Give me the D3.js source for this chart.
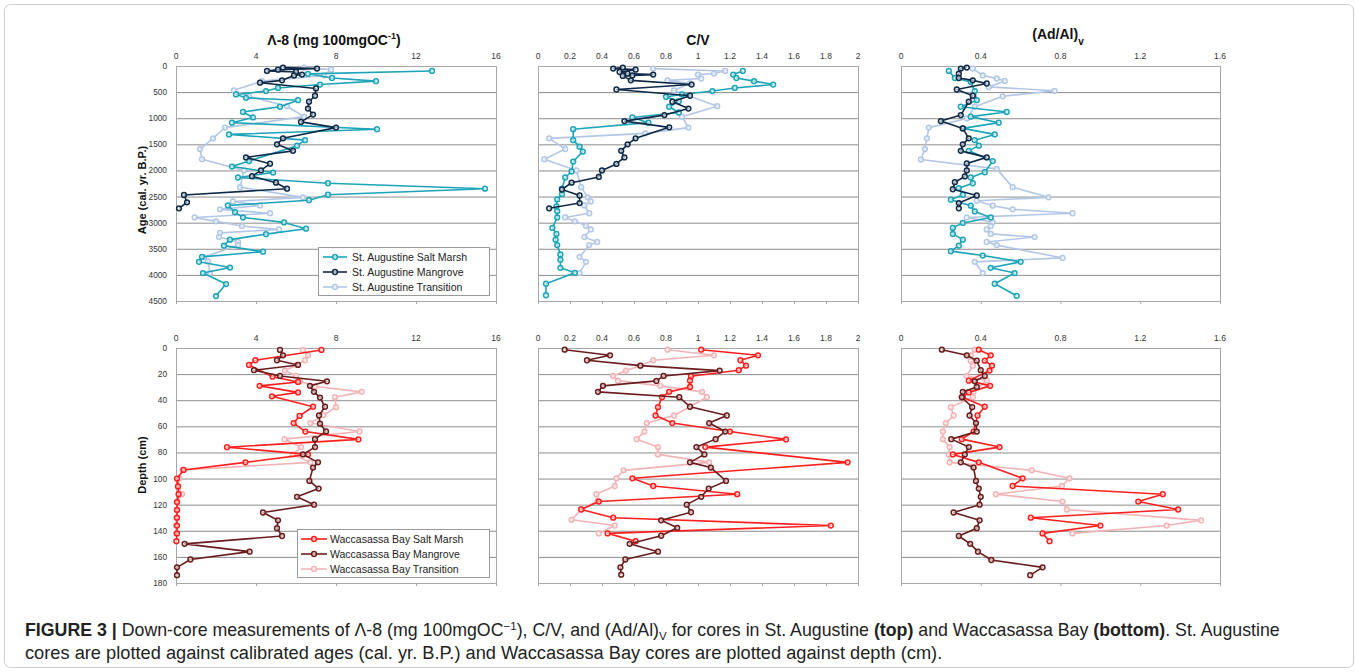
<!DOCTYPE html>
<html>
<head>
<meta charset="utf-8">
<script src="https://cdn.jsdelivr.net/npm/d3@7"></script>
<style>
  body { margin: 0; background: #fff; }
  svg text { font-family: "Liberation Sans", Arial, Helvetica, sans-serif; }
</style>
</head>
<body>
<div id="chart"></div>
<script>
// St. Augustine, [value, age cal. yr B.P.]
const saSaltMarshLambda = [[12.8,95],[6.6,150],[7.8,230],[10.0,290],[7.2,355],[5.1,420],[4.5,480],[3.0,545],[3.5,610],[6.1,655],[5.2,780],[3.35,880],[3.85,985],[2.8,1085],[10.05,1210],[2.65,1310],[6.45,1420],[6.05,1525],[3.65,1820],[2.8,1925],[4.85,2040],[3.1,2135],[7.6,2245],[15.45,2350],[7.6,2465],[6.65,2570],[2.6,2670],[2.95,2800],[3.35,2900],[5.4,2995],[6.5,3115],[4.5,3220],[2.7,3325],[2.4,3440],[4.35,3555],[1.3,3655],[1.15,3750],[2.7,3860],[1.35,3965],[2.5,4175],[2.0,4405]];
const saMangroveLambda = [[5.35,30],[7.05,50],[5.1,70],[4.55,95],[6.0,115],[6.3,165],[5.9,180],[5.3,275],[4.2,320],[7.0,430],[6.95,570],[6.65,685],[6.6,815],[6.85,930],[6.25,1070],[8.0,1180],[5.35,1385],[5.05,1500],[5.85,1625],[3.5,1750],[4.7,1870],[4.25,2000],[3.8,2110],[5.0,2235],[5.55,2350],[0.4,2470],[0.55,2610],[0.15,2725]];
const saTransitionLambda = [[6.4,30],[7.75,70],[7.4,180],[4.3,290],[2.9,465],[3.65,580],[5.55,770],[6.4,970],[2.45,1180],[1.85,1385],[1.2,1590],[1.3,1785],[3.4,2000],[3.2,2320],[6.35,2515],[2.85,2595],[4.2,2670],[2.2,2745],[4.7,2820],[0.93,2900],[2.0,2975],[3.3,3065],[5.15,3130],[2.2,3195],[2.15,3275],[3.1,3370],[3.1,3430],[1.4,3660],[1.6,3740],[1.7,3965]];

const saSaltMarshCV = [[1.28,95],[1.22,165],[1.24,230],[1.35,290],[1.47,355],[1.23,420],[1.09,480],[0.9,545],[0.8,590],[0.88,675],[0.82,780],[0.88,890],[0.59,985],[0.69,1085],[0.22,1210],[0.22,1420],[0.26,1545],[0.28,1640],[0.22,1830],[0.21,2020],[0.17,2135],[0.15,2350],[0.15,2455],[0.12,2555],[0.115,2690],[0.12,2780],[0.12,2900],[0.09,3100],[0.115,3215],[0.11,3325],[0.12,3430],[0.14,3610],[0.14,3710],[0.14,3865],[0.23,3960],[0.05,4170],[0.05,4390]];
const saMangroveCV = [[0.53,30],[0.47,50],[0.61,70],[0.51,115],[0.56,145],[0.72,165],[0.59,180],[0.53,190],[0.58,275],[0.96,355],[0.49,450],[0.95,570],[0.84,685],[0.94,815],[0.79,940],[0.54,1055],[0.82,1175],[0.61,1385],[0.56,1500],[0.52,1625],[0.54,1750],[0.49,1875],[0.40,2000],[0.38,2125],[0.21,2235],[0.15,2365],[0.26,2480],[0.26,2625],[0.07,2725]];
const saTransitionCV = [[0.72,50],[1.17,95],[1.10,145],[1.0,165],[1.02,240],[0.81,275],[0.95,335],[0.85,465],[1.12,770],[0.9,970],[0.94,1180],[0.67,1290],[0.07,1385],[0.17,1590],[0.04,1785],[0.24,2000],[0.27,2320],[0.31,2515],[0.33,2595],[0.29,2670],[0.32,2820],[0.17,2900],[0.23,2975],[0.30,3060],[0.33,3130],[0.29,3275],[0.37,3370],[0.32,3430],[0.26,3655],[0.30,3750],[0.26,3965]];

const saSaltMarshAdAl = [[0.24,95],[0.27,230],[0.35,305],[0.37,480],[0.38,655],[0.30,780],[0.53,880],[0.35,970],[0.49,1085],[0.31,1195],[0.47,1310],[0.37,1420],[0.39,1525],[0.34,1625],[0.46,1820],[0.42,2035],[0.35,2135],[0.36,2245],[0.29,2340],[0.31,2465],[0.25,2560],[0.35,2675],[0.37,2785],[0.45,2900],[0.31,3005],[0.26,3100],[0.26,3215],[0.31,3325],[0.29,3440],[0.25,3545],[0.41,3630],[0.60,3750],[0.45,3865],[0.57,3965],[0.47,4170],[0.58,4400]];
const saMangroveAdAl = [[0.33,30],[0.30,50],[0.29,145],[0.29,230],[0.36,275],[0.43,335],[0.28,450],[0.36,570],[0.34,685],[0.30,940],[0.20,1055],[0.31,1195],[0.34,1385],[0.31,1500],[0.30,1625],[0.43,1750],[0.33,1865],[0.33,2000],[0.32,2115],[0.27,2225],[0.26,2360],[0.38,2480],[0.29,2625],[0.29,2725]];
const saTransitionAdAl = [[0.36,50],[0.41,180],[0.48,240],[0.52,285],[0.44,400],[0.77,475],[0.51,580],[0.37,780],[0.33,1005],[0.14,1180],[0.13,1385],[0.12,1590],[0.10,1790],[0.48,1970],[0.56,2320],[0.74,2515],[0.38,2580],[0.46,2675],[0.56,2745],[0.86,2820],[0.33,2900],[0.46,2990],[0.45,3065],[0.43,3130],[0.45,3215],[0.67,3275],[0.43,3370],[0.48,3430],[0.81,3675],[0.37,3750],[0.41,3965]];

// Waccasassa Bay, [value, depth cm]
const wbSaltMarshLambda = [[7.27,1.5],[3.97,9.4],[3.65,13],[4.83,22],[6.1,26],[4.18,29],[6.1,34],[4.8,37],[6.85,45],[6.18,52],[5.88,57.5],[6.47,64],[9.12,70],[2.55,76],[6.6,81.5],[3.47,87.6],[0.38,93.4],[0.05,100],[0.1,106],[0.13,112],[0.05,118],[0.05,124],[0.05,130],[0.05,136],[0.05,142],[0.02,148]];
const wbMangroveLambda = [[5.2,1.5],[5.35,5.6],[5.05,9.4],[6.1,13],[3.9,17],[5.2,21.4],[7.55,25.5],[6.7,29],[6.9,33.6],[7.2,38],[7.45,45],[7.15,51.7],[7.2,58],[7.5,63.9],[6.95,69.8],[6.95,75.9],[6.35,81.5],[7.1,87.6],[6.85,91.6],[6.67,101.8],[7.13,107.7],[6.05,114],[6.9,120],[4.35,126],[5.1,132],[5.05,138],[5.3,144],[0.43,150],[3.68,156],[0.72,162],[0.05,168],[0.05,174]];
const wbTransitionLambda = [[6.35,1.5],[6.6,5.6],[6.45,9.4],[6.05,13],[5.45,17.3],[6.0,21.4],[6.2,25.5],[6.95,29.5],[9.28,33.6],[7.95,37.7],[8.0,45.3],[7.38,51.4],[6.72,57.5],[9.18,63.9],[5.43,69.8],[6.25,75.9],[5.85,81.5],[6.72,87.6],[0.33,93.4],[0.17,99.8],[0.1,106],[0.3,112],[0.05,118],[0.05,124],[0.02,130],[0.0,136],[0.0,142]];

const wbSaltMarshCV = [[1.02,1.3],[1.375,5.6],[1.265,9.4],[1.30,13.5],[1.255,17],[0.956,21.6],[0.95,25],[0.95,29.8],[0.82,33.6],[0.775,37.7],[0.75,45.3],[0.735,51.7],[0.84,57.5],[1.2,64],[1.55,70],[1.046,75.9],[1.935,87.6],[0.59,99.8],[0.72,105.7],[1.245,112],[0.38,117.6],[0.27,123.7],[0.47,130],[1.83,136],[0.435,142],[0.61,148]];
const wbMangroveCV = [[0.167,1.3],[0.45,5.6],[0.306,9.4],[0.64,13.5],[1.135,17.3],[0.785,21.4],[0.74,25.2],[0.406,29],[0.375,33.6],[0.883,37.7],[0.95,45],[1.18,51.7],[1.07,57.5],[1.17,64],[1.11,69.8],[0.99,75.9],[1.04,81.5],[0.95,87.6],[1.08,91.6],[1.175,101.8],[1.067,107.7],[1.02,114],[0.93,120],[0.956,125.8],[0.77,132],[0.87,137.7],[0.77,143.8],[0.573,150],[0.75,156],[0.546,162],[0.515,168],[0.52,173.6]];
const wbTransitionCV = [[0.81,1.3],[1.1,5.6],[0.72,9.4],[0.64,13.5],[0.55,17.3],[0.47,21.4],[0.5,25],[0.765,29],[1.025,33.6],[1.055,37.7],[0.95,45],[0.85,51.7],[0.68,57.5],[0.665,64],[0.617,69.8],[0.75,75.9],[0.75,81.5],[1.07,87.6],[0.535,93.7],[0.49,99.8],[0.48,105.7],[0.365,112],[0.373,117],[0.27,123.7],[0.21,131.6],[0.48,136],[0.38,142]];

const wbSaltMarshAdAl = [[0.39,1.3],[0.45,5.6],[0.42,9.7],[0.456,13.5],[0.444,17.3],[0.34,25],[0.447,29],[0.34,34],[0.31,37.7],[0.42,45],[0.384,51.7],[0.364,64],[0.305,69.8],[0.494,75.9],[0.26,81.5],[0.39,87.6],[0.61,99.8],[0.56,105.7],[1.313,112],[1.19,117.6],[1.39,123.7],[0.651,130],[1.0,136],[0.71,142],[0.745,148]];
const wbMangroveAdAl = [[0.205,1.3],[0.33,5.6],[0.38,9.7],[0.40,17],[0.42,21.4],[0.37,25.5],[0.38,29.8],[0.31,33.6],[0.305,37.7],[0.357,45.3],[0.344,51.7],[0.376,57.5],[0.38,64],[0.252,69.8],[0.34,75.9],[0.32,81.5],[0.30,87.6],[0.364,91.6],[0.376,101.8],[0.39,107.7],[0.40,114],[0.394,120],[0.264,126],[0.394,132],[0.38,138],[0.29,144],[0.347,150],[0.386,156],[0.453,162.4],[0.71,168],[0.648,174]];
const wbTransitionAdAl = [[0.37,1.3],[0.35,5.6],[0.35,9.7],[0.36,13.5],[0.33,21.4],[0.43,25],[0.364,33.6],[0.36,37.7],[0.25,45.3],[0.264,51.7],[0.225,57.5],[0.21,64],[0.21,69.8],[0.244,75.9],[0.24,81.5],[0.244,87.6],[0.656,93.7],[0.845,99.8],[0.807,105.7],[0.476,112],[0.81,117.6],[0.832,123.7],[1.505,132],[1.333,136],[0.86,142]];

const lambdaTicks = [0, 4, 8, 12, 16];
const cvTicks = [0, 0.2, 0.4, 0.6, 0.8, 1, 1.2, 1.4, 1.6, 1.8, 2];
const adalTicks = [0, 0.4, 0.8, 1.2, 1.6];
const ageTicks = d3.range(0, 4501, 500);
const depthTicks = d3.range(0, 181, 20);

const saNames = ["St. Augustine Salt Marsh", "St. Augustine Mangrove", "St. Augustine Transition"];
const wbNames = ["Waccasassa Bay Salt Marsh", "Waccasassa Bay Mangrove", "Waccasassa Bay Transition"];
const saColors = ["#1ca4b8", "#0f2a48", "#b2c7e5"];
const wbColors = ["#ff1f1f", "#6a1c1c", "#f3b3b6"];

const width = 1355, height = 672;
const svg = d3.select("#chart").append("svg")
  .attr("width", width)
  .attr("height", height);

svg.append("rect")
  .attr("x", 4.5).attr("y", 4.5)
  .attr("width", 1349).attr("height", 663)
  .attr("rx", 6)
  .attr("fill", "none")
  .attr("stroke", "#cfcfcf");

const cols = [
  { x0: 176, x1: 496, domain: [0, 16], ticks: lambdaTicks },
  { x0: 538, x1: 858, domain: [0, 2], ticks: cvTicks },
  { x0: 901, x1: 1220, domain: [0, 1.6], ticks: adalTicks }
];
const rows = [
  { y0: 66, y1: 301, domain: [0, 4500], ticks: ageTicks, colors: saColors, names: saNames,
    series: [[saSaltMarshLambda, saMangroveLambda, saTransitionLambda],
             [saSaltMarshCV, saMangroveCV, saTransitionCV],
             [saSaltMarshAdAl, saMangroveAdAl, saTransitionAdAl]] },
  { y0: 348, y1: 583, domain: [0, 180], ticks: depthTicks, colors: wbColors, names: wbNames,
    series: [[wbSaltMarshLambda, wbMangroveLambda, wbTransitionLambda],
             [wbSaltMarshCV, wbMangroveCV, wbTransitionCV],
             [wbSaltMarshAdAl, wbMangroveAdAl, wbTransitionAdAl]] }
];

const fmt = d => String(+d.toFixed(1));

rows.forEach((row, ri) => {
  const y = d3.scaleLinear().domain(row.domain).range([row.y0, row.y1]);
  cols.forEach((col, ci) => {
    const x = d3.scaleLinear().domain(col.domain).range([col.x0, col.x1]);
    const g = svg.append("g");

    // grid
    g.selectAll(".grid")
      .data(row.ticks.slice(1, -1))
      .enter().append("line")
      .attr("x1", col.x0).attr("x2", col.x1)
      .attr("y1", d => y(d) + 0.5).attr("y2", d => y(d) + 0.5)
      .attr("stroke", "#8c8c8c")
      .attr("stroke-width", 1);

    // frame
    g.append("rect")
      .attr("x", col.x0 + 0.5).attr("y", row.y0 + 0.5)
      .attr("width", col.x1 - col.x0).attr("height", row.y1 - row.y0)
      .attr("fill", "none")
      .attr("stroke", "#a8a8a8");

    // small ticks on bottom edge
    g.selectAll(".bt")
      .data(col.ticks)
      .enter().append("line")
      .attr("x1", d => x(d) + 0.5).attr("x2", d => x(d) + 0.5)
      .attr("y1", row.y1).attr("y2", row.y1 + 3)
      .attr("stroke", "#a8a8a8");

    // top tick labels
    g.selectAll(".xt")
      .data(col.ticks)
      .enter().append("text")
      .attr("x", d => x(d))
      .attr("y", row.y0 - 7)
      .attr("text-anchor", "middle")
      .attr("font-size", 8.5)
      .attr("fill", "#333")
      .text(fmt);

    if (ci === 0) {
      g.selectAll(".yt")
        .data(row.ticks)
        .enter().append("text")
        .attr("x", col.x0 - 9)
        .attr("y", d => y(d) + 3)
        .attr("text-anchor", "end")
        .attr("font-size", 8.3)
        .attr("fill", "#333")
        .text(d => d);
    }

    const line = d3.line().x(d => x(d[0])).y(d => y(d[1]));
    const order = [2, 0, 1];
    order.forEach(si => {
      const data = row.series[ci][si];
      const color = row.colors[si];
      g.append("path")
        .datum(data)
        .attr("fill", "none")
        .attr("stroke", color)
        .attr("stroke-width", 1.6)
        .attr("stroke-linejoin", "round")
        .attr("d", line);
      g.selectAll(null)
        .data(data)
        .enter().append("circle")
        .attr("cx", d => x(d[0]))
        .attr("cy", d => y(d[1]))
        .attr("r", 2.4)
        .attr("fill", "#fff")
        .attr("fill-opacity", 0.6)
        .attr("stroke", color)
        .attr("stroke-width", 1.5);
    });
  });
});

// panel titles
const t1 = svg.append("text").attr("x", 334).attr("y", 45)
  .attr("text-anchor", "middle").attr("font-size", 14).attr("font-weight", "bold").attr("fill", "#111");
t1.append("tspan").text("Λ-8 (mg 100mgOC");
t1.append("tspan").attr("dy", -6).attr("font-size", 9).text("-1");
t1.append("tspan").attr("dy", 6).text(")");

svg.append("text").attr("x", 698).attr("y", 45)
  .attr("text-anchor", "middle").attr("font-size", 14).attr("font-weight", "bold").attr("fill", "#111")
  .text("C/V");

const t3 = svg.append("text").attr("x", 1058).attr("y", 39)
  .attr("text-anchor", "middle").attr("font-size", 14).attr("font-weight", "bold").attr("fill", "#111");
t3.append("tspan").text("(Ad/Al)");
t3.append("tspan").attr("dy", 6).attr("font-size", 10).text("v");

// y axis titles
svg.append("text")
  .attr("transform", "translate(146,190) rotate(-90)")
  .attr("text-anchor", "middle").attr("font-size", 11).attr("font-weight", "bold").attr("fill", "#111")
  .text("Age (cal. yr. B.P.)");
svg.append("text")
  .attr("transform", "translate(146,465) rotate(-90)")
  .attr("text-anchor", "middle").attr("font-size", 11).attr("font-weight", "bold").attr("fill", "#111")
  .text("Depth (cm)");

// legends
function legend(x0, y0, w, h, names, colors, textX, lineX0, lineX1) {
  const lg = svg.append("g");
  lg.append("rect")
    .attr("x", x0 + 0.5).attr("y", y0 + 0.5)
    .attr("width", w).attr("height", h)
    .attr("fill", "#fff")
    .attr("stroke", "#9a9a9a");
  names.forEach((n, i) => {
    const cy = y0 + 10 + i * 15;
    lg.append("line")
      .attr("x1", lineX0).attr("x2", lineX1)
      .attr("y1", cy).attr("y2", cy)
      .attr("stroke", colors[i]).attr("stroke-width", 1.6);
    lg.append("circle")
      .attr("cx", (lineX0 + lineX1) / 2).attr("cy", cy).attr("r", 2.4)
      .attr("fill", "#fff").attr("fill-opacity", 0.6)
      .attr("stroke", colors[i]).attr("stroke-width", 1.5);
    lg.append("text")
      .attr("x", textX).attr("y", cy + 3.8)
      .attr("font-size", 10.5).attr("fill", "#222")
      .text(n);
  });
}
legend(318, 247, 171, 48, saNames, saColors, 352, 323, 347);
legend(297, 529, 192, 48, wbNames, wbColors, 330, 301, 327);

// caption
const c1 = svg.append("text").attr("x", 25).attr("y", 636).attr("font-size", 15).attr("fill", "#222");
c1.append("tspan").attr("font-weight", "bold").text("FIGURE 3 |");
c1.append("tspan").text(" Down-core measurements of Λ-8 (mg 100mgOC");
c1.append("tspan").attr("dy", -6).attr("font-size", "0.65em").text("−1");
c1.append("tspan").attr("dy", 6).text("), C/V, and (Ad/Al)");
c1.append("tspan").attr("dy", 4).attr("font-size", "0.65em").text("V");
c1.append("tspan").attr("dy", -4).text(" for cores in St. Augustine ");
c1.append("tspan").attr("font-weight", "bold").text("(top)");
c1.append("tspan").text(" and Waccasassa Bay ");
c1.append("tspan").attr("font-weight", "bold").text("(bottom)");
c1.append("tspan").text(". St. Augustine");

const c2 = svg.append("text").attr("x", 25).attr("y", 659).attr("font-size", 15).attr("fill", "#222")
  .text("cores are plotted against calibrated ages (cal. yr. B.P.) and Waccasassa Bay cores are plotted against depth (cm).");

// fit caption widths to the reference
[[c1, 1255], [c2, 918]].forEach(([t, w]) => {
  const len = t.node().getComputedTextLength();
  t.attr("font-size", 15 * w / len);
});
</script>
</body>
</html>
